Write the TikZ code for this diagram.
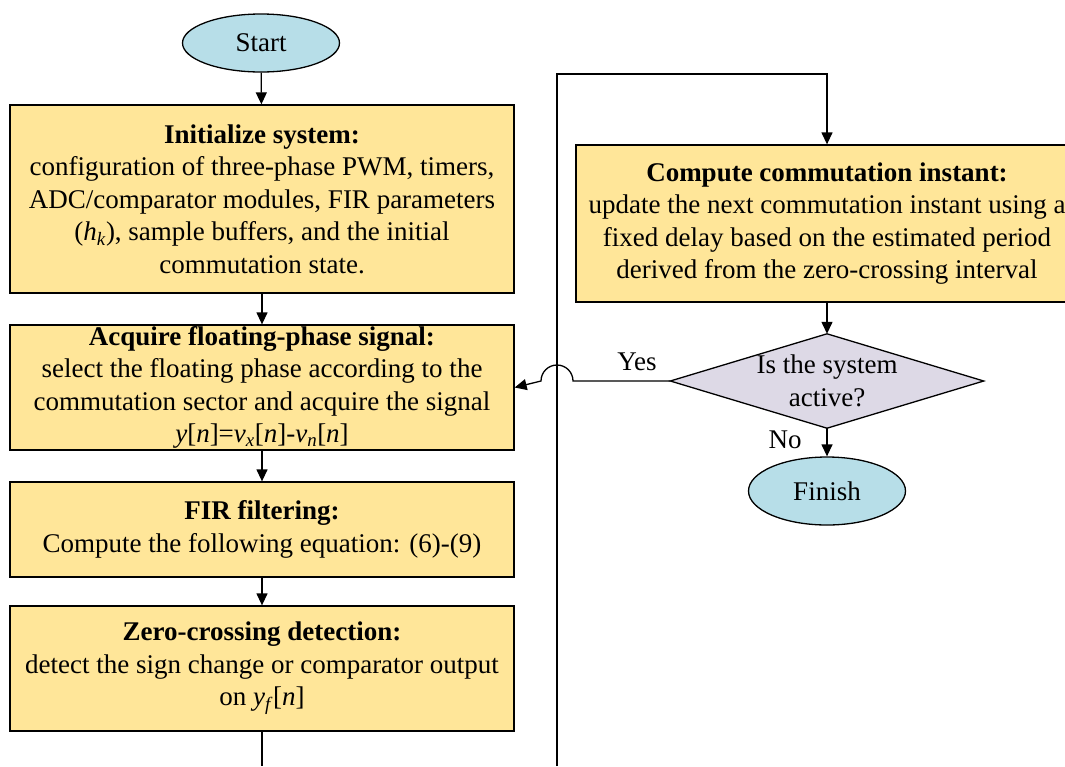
\documentclass[tikz,border=0pt]{standalone}
\usepackage{fontspec}
\setmainfont{Liberation Serif}
\usetikzlibrary{arrows.meta,shapes.geometric}
\definecolor{boxfill}{RGB}{255,230,153}
\definecolor{termfill}{RGB}{183,222,232}
\definecolor{decfill}{RGB}{221,217,230}
\newcommand{\iv}[1]{\textit{#1}}
\begin{document}
\begin{tikzpicture}[x=1pt,y=1pt,
  every node/.style={font=\fontsize{27}{32.5}\selectfont},
  procbox/.style={draw=black,line width=1.3pt,fill=boxfill,align=center,inner sep=0pt,minimum width=504pt},
  term/.style={draw=black,line width=1.3pt,fill=termfill,ellipse,inner sep=0pt},
  decis/.style={inner sep=0pt,align=center,minimum width=313pt,minimum height=94pt},
  decshape/.style={draw=black,line width=1.3pt,fill=decfill,line join=miter},
  conn/.style={line width=1.3pt,draw=black},
  arr/.style={conn,-{Triangle[length=12pt,width=11pt]}}]
\useasboundingbox (0,0) rectangle (1065,-766);
\node[term,minimum width=157pt,minimum height=58pt] (start) at (261,-43) {Start};
\node[procbox,minimum height=188pt] (init) at (262,-199) {\textbf{Initialize system:}\\configuration of three-phase PWM, timers,\\ADC/comparator modules, FIR parameters\\(\iv{h}\textsubscript{\iv{k}}), sample buffers, and the initial\\commutation state.};
\node[procbox,minimum height=125pt] (acq) at (262,-387.5) {\textbf{Acquire floating-phase signal:}\\select the floating phase according to the\\commutation sector and acquire the signal\\\iv{y}[\iv{n}]=\iv{v}\textsubscript{\iv{x}}[\iv{n}]-\iv{v}\textsubscript{\iv{n}}[\iv{n}]};
\node[procbox,minimum height=95pt] (fir) at (262,-529.5) {\textbf{FIR filtering:}\\Compute the following equation: (6)-(9)};
\node[procbox,minimum height=125pt] (zc) at (262,-668.5) {\textbf{Zero-crossing detection:}\\detect the sign change or comparator output\\on \iv{y}\textsubscript{\iv{f}}[\iv{n}]};
\node[procbox,minimum width=502pt,minimum height=157pt] (comp) at (827,-223.5) {\textbf{Compute commutation instant:}\\update the next commutation instant using a\\fixed delay based on the estimated period\\derived from the zero-crossing interval};
\node[decis] (dec) at (827,-381) {};
\draw[decshape] (dec.north) -- (dec.east) -- (dec.south) -- (dec.west) -- cycle;
\node[align=center] (dectext) at (dec.center) {Is the system\\active?};
\node[term,minimum width=157pt,minimum height=68pt] (fin) at (827,-491) {Finish};
\node (yes) at (637,-362) {Yes};
\node (no) at (785,-440) {No};
\coordinate (zcb) at (262,-766);
\coordinate (lpb) at (557,-766);
\coordinate (lpt) at (557,-74);
\coordinate (hopr) at (573,-381);
\draw[arr] (start) -- (init);
\draw[arr] (init) -- (acq);
\draw[arr] (acq) -- (fir);
\draw[arr] (fir) -- (zc);
\draw[conn] (zc) -- (zcb);
\draw[arr] (lpb) -- (lpt) -| (comp.north);
\draw[arr] (comp.south) -- (dec.north);
\draw[arr] (dec.south) -- (fin);
\draw[arr] (dec.west) -- (hopr) arc[start angle=0,end angle=180,radius=16pt] -- (acq.east);
\end{tikzpicture}
\end{document}
